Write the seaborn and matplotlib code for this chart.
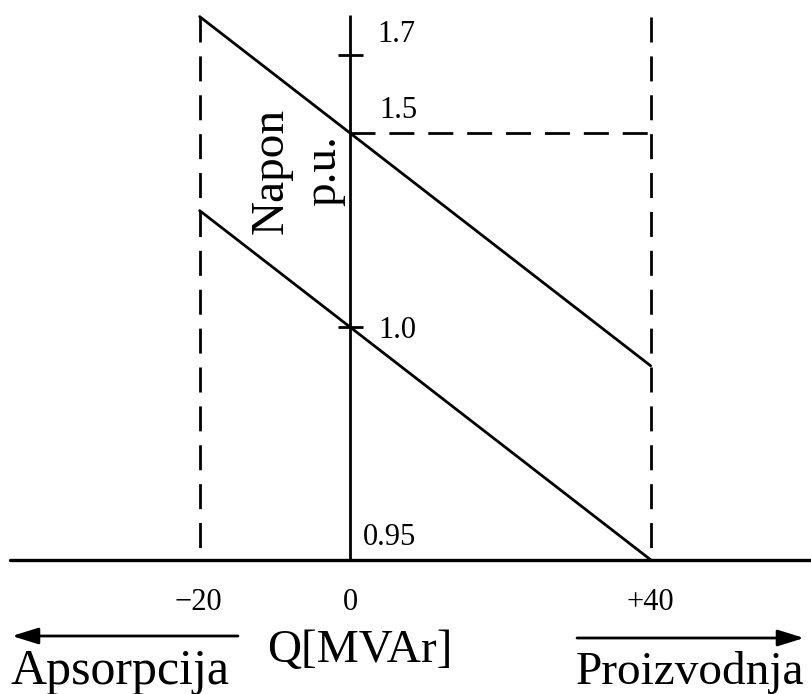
import numpy as np
import pandas as pd
import matplotlib
matplotlib.use("Agg")
import matplotlib.pyplot as plt
import seaborn as sns

# ---------------- data (schematic voltage-regulation characteristic) ----------------
q_limits = [-20, 40]                 # Q [MVAr] limits (absorption / production)
upper_v = [1.80, 0.90]               # upper characteristic at Q = -20 and Q = +40
lower_v = [1.30, 0.40]               # lower characteristic at Q = -20 and Q = +40
v_ref = 1.5                          # reference level (dashed horizontal)
v_base = 0.40                        # drawn position of the 0.95 baseline (axis break)
v_top = 1.80                         # top of the drawing
x_ticks = [-20, 0, 40]
x_tick_labels = ["\u221220", "0", "+40"]
y_tick_pos = [0.40, 1.0, 1.5, 1.7]
y_tick_labels = ["0.95", "1.0", "1.5", "1.7"]
y_tick_marks = [1.0, 1.7]
y_label = "Napon\np.u."
x_label = "Q[MVAr]"
left_label = "Apsorpcija"
right_label = "Proizvodnja"

# ---------------- figure ----------------
sns.set_theme(style="white")
plt.rcParams["font.family"] = ["Liberation Serif", "DejaVu Serif"]
plt.rcParams["text.color"] = "black"

W, H = 811, 694
fig = plt.figure(figsize=(W / 100, H / 100), dpi=100)
ax = fig.add_axes([0, 0, 1, 1])
ax.set_axis_off()
ax.set_xlim(-46.56, 61.33)
ax.set_ylim(0.0541, 1.8428)

df = pd.DataFrame({
    "Q": q_limits + q_limits,
    "V": upper_v + lower_v,
    "line": ["upper"] * 2 + ["lower"] * 2,
})
sns.lineplot(data=df, x="Q", y="V", hue="line", palette=["black", "black"],
             estimator=None, sort=False, lw=2.0, legend=False, ax=ax)

dash = (0, (9, 5))
# vertical axis
ax.plot([0, 0], [v_base, v_top + 0.005], color="black", lw=2.0, solid_capstyle="butt")
# baseline
ax.axhline(v_base, xmin=10 / W, xmax=1.0, color="black", lw=2.4)
# dashed limits
for q in q_limits:
    ax.plot([q, q], [v_top, v_base], color="black", lw=2.0, ls=dash)
# dashed reference level
ax.plot([0, q_limits[1]], [v_ref, v_ref], color="black", lw=2.0, ls=dash)
# tick marks
for y in y_tick_marks:
    ax.plot([-1.6, 1.7], [y, y], color="black", lw=2.0, solid_capstyle="butt")

# y tick labels (offsets in points)
y_offsets = {"0.95": (9.4, 10.8), "1.0": (20.5, -7.9), "1.5": (21.2, 10.8), "1.7": (19.6, 10)}
for pos, lab in zip(y_tick_pos, y_tick_labels):
    ax.annotate(lab, xy=(0, pos), xytext=y_offsets[lab], textcoords="offset points",
                ha="left", va="baseline", fontsize=22, color="black")

# x tick labels
for pos, lab in zip(x_ticks, x_tick_labels):
    ax.annotate(lab, xy=(pos, v_base), xytext=(-1 if pos < 0 else 0, -36),
                textcoords="offset points",
                ha="center", va="baseline", fontsize=22, color="black")

# y label (rotated, two lines)
fig.text(298 / W, 1 - 171 / H, y_label, rotation=90, ha="center", va="center",
         fontsize=34, linespacing=1.3, multialignment="center", color="black")

# bottom labels
fig.text(360 / W, 1 - 662 / H, x_label, ha="center", va="baseline", fontsize=34, color="black")
fig.text(120 / W, 1 - 684 / H, left_label, ha="center", va="baseline", fontsize=36, color="black")
fig.text(690 / W, 1 - 684 / H, right_label, ha="center", va="baseline", fontsize=34, color="black")

arrow_style = "-|>,head_length=0.8,head_width=0.25"
ax.annotate("", xy=(12, H - 636), xytext=(238, H - 636), xycoords="figure pixels",
            textcoords="figure pixels",
            arrowprops=dict(arrowstyle=arrow_style, color="black", lw=2.0,
                            mutation_scale=20, shrinkA=0, shrinkB=0))
ax.annotate("", xy=(804, H - 638), xytext=(577, H - 638), xycoords="figure pixels",
            textcoords="figure pixels",
            arrowprops=dict(arrowstyle=arrow_style, color="black", lw=2.0,
                            mutation_scale=20, shrinkA=0, shrinkB=0))

fig.savefig("out.png", dpi=100, facecolor="white")
